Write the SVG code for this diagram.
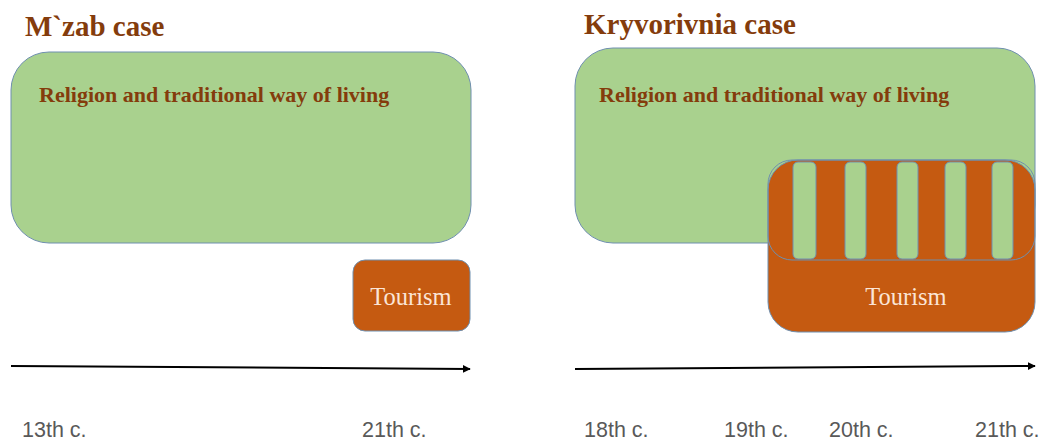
<svg xmlns="http://www.w3.org/2000/svg" width="1043" height="441" viewBox="0 0 1043 441">
<defs>
<style>
.title{font-family:"Liberation Serif","Times New Roman",serif;font-weight:bold;font-size:29px;fill:#843C0C}
.lbl{font-family:"Liberation Serif","Times New Roman",serif;font-weight:bold;font-size:22px;fill:#843C0C}
.tour{font-family:"Liberation Serif","Times New Roman",serif;font-size:24.5px;fill:#FBE5D6;text-anchor:middle}
.green{fill:#A9D18E;stroke:#6F8FAF;stroke-width:1}
.orange{fill:#C55A11;stroke:#6F8FAF;stroke-width:1}
.axis{fill:none;stroke:#000;stroke-width:2}
.tick{font-family:"Liberation Sans","Noto Sans CJK JP",sans-serif;font-size:21.5px;fill:#595959}
</style>
<marker id="ah" viewBox="0 0 10 10" refX="9" refY="5" markerWidth="4" markerHeight="4" orient="auto">
<path d="M0,0 L10,5 L0,10 z" fill="#000"/>
</marker>
</defs>
<rect width="1043" height="441" fill="#fff"/>

<g id="mzab-title"><text class="title" x="25" y="36">M`zab case</text></g>
<g id="mzab-religion">
<rect class="green" x="11" y="52" width="460" height="191" rx="38"/>
<text class="lbl" x="39" y="102">Religion and traditional way of living</text>
</g>
<g id="mzab-tourism">
<rect class="orange" x="353" y="260" width="117" height="71" rx="12"/>
<text class="tour" x="411" y="305">Tourism</text>
</g>

<g id="kryv-title"><text class="title" x="584" y="34">Kryvorivnia case</text></g>
<g id="kryv-religion">
<rect class="green" x="575" y="48" width="460" height="195" rx="38"/>
<text class="lbl" x="599" y="102">Religion and traditional way of living</text>
</g>
<g id="kryv-tourism">
<rect class="orange" x="768" y="160" width="267" height="172" rx="30"/>
<rect x="768" y="160" width="267" height="100" rx="24" fill="none" stroke="#6F8FAF" stroke-width="1"/>
<rect class="green" x="793" y="162" width="23" height="97" rx="5"/>
<rect class="green" x="845" y="162" width="21" height="97" rx="5"/>
<rect class="green" x="897" y="162" width="21" height="97" rx="5"/>
<rect class="green" x="945" y="162" width="21" height="97" rx="5"/>
<rect class="green" x="992" y="162" width="21" height="97" rx="5"/>
<text class="tour" x="906" y="305">Tourism</text>
</g>

<g id="connectors">
<path class="axis" d="M11,366 L470,369" marker-end="url(#ah)"/>
<path class="axis" d="M575,369 L1035,366" marker-end="url(#ah)"/>
</g>

<g id="axis-labels">
<text class="tick" x="22" y="437">13th c.</text>
<text class="tick" x="362" y="437">21th c.</text>
<text class="tick" x="584" y="437">18th c.</text>
<text class="tick" x="724" y="437">19th c.</text>
<text class="tick" x="829" y="437">20th c.</text>
<text class="tick" x="975" y="437">21th c.</text>
</g>
</svg>
